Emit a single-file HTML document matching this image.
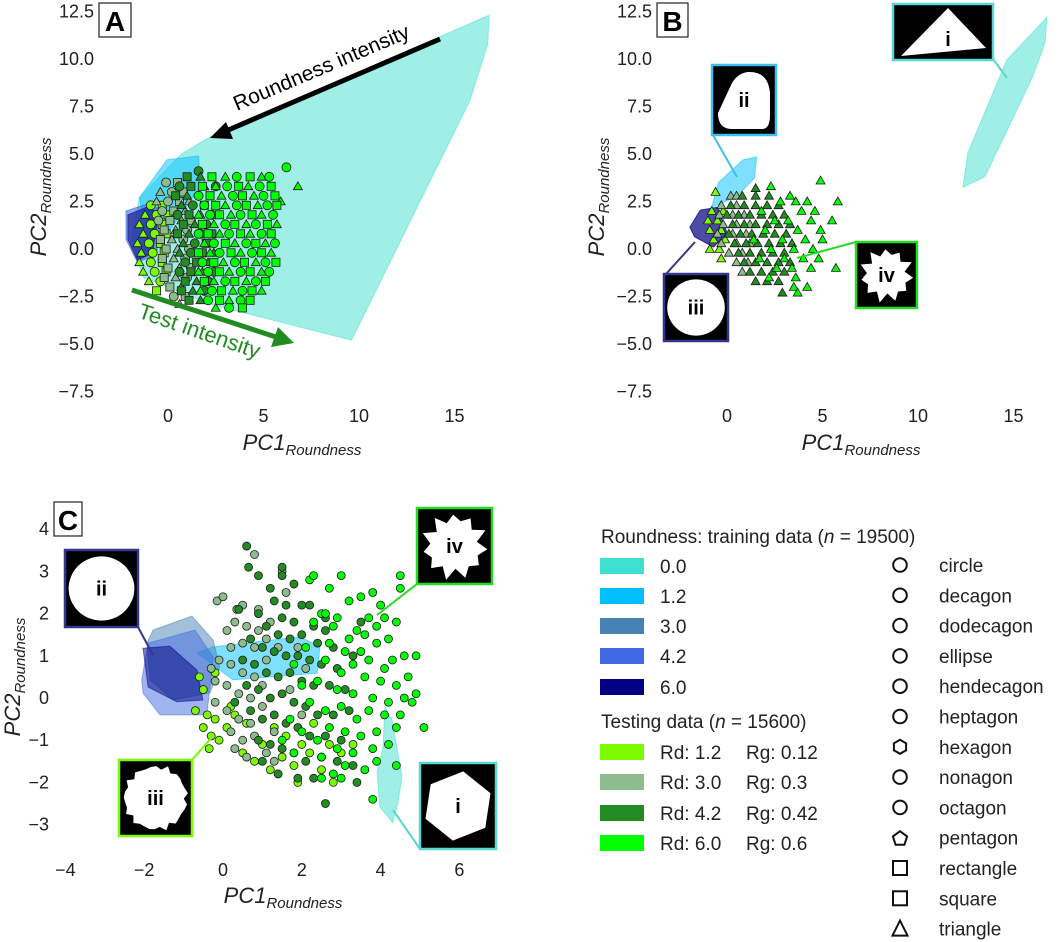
<!DOCTYPE html>
<html><head><meta charset="utf-8"><style>
html,body{margin:0;padding:0;background:#fff;}
svg{display:block;font-family:"Liberation Sans",sans-serif;}
</style></head><body>
<svg id="fig" width="1059" height="942" viewBox="0 0 1059 942">
<g id="gA"></g>
<g id="gB"></g>
<g id="gC"></g>
<g id="gL"></g>
</svg>
<script>
// ---------- DATA ----------
const hullColors = ["#40E0D0","#00BFFF","#4682B4","#4169E1","#000080"];
const hullLabels = ["0.0","1.2","3.0","4.2","6.0"];
const testColors = ["#7CFC00","#8FBC8F","#228B22","#00FF00"];
const testRd = ["Rd: 1.2","Rd: 3.0","Rd: 4.2","Rd: 6.0"];
const testRg = ["Rg: 0.12","Rg: 0.3","Rg: 0.42","Rg: 0.6"];
const shapeNames = ["circle","decagon","dodecagon","ellipse","hendecagon","heptagon","hexagon","nonagon","octagon","pentagon","rectangle","square","triangle"];
const abYTicks = [12.5,10,7.5,5,2.5,0,-2.5,-5,-7.5];
const abXTicks = [0,5,10,15];
const cYTicks = [4,3,2,1,0,-1,-2,-3];
const cXTicks = [-4,-2,0,2,4,6];

// Panel A hulls
const aHull0 = [[16.8,12.3],[16.75,10.8],[15.8,7.8],[9.6,-4.8],[2.2,-2.9],[-1.3,-1.5],[-1.9,0.5],[-1.5,2.7],[0.7,5.0],[2.2,5.9]];
const aHull1 = [[-1.5,2.7],[-0.05,4.7],[1.6,4.9],[1.7,3.3],[-0.05,0.8],[-1.3,1.7]];
const aHull3 = [[-2.2,2.0],[-1.0,2.4],[-0.3,2.0],[-0.6,-0.3],[-1.6,-0.7],[-2.2,0.5]];
const aHull4 = [[-2.1,1.8],[-1.1,2.2],[-0.5,1.9],[-0.8,-0.2],[-1.6,-0.6],[-2.1,0.5]];
// Panel A test points: rows [y, x1, x2, ...]
const aYellow = [[2.3,-0.9,-0.3],[1.8,-1.2,-0.6,0.0],[1.3,-1.5,-0.9,-0.3],[0.8,-1.3,-0.7,-0.1],[0.3,-1.6,-1.0,-0.4],[-0.2,-1.4,-0.8,-0.2],[-0.7,-1.5,-0.9,-0.3],[-1.2,-1.3,-0.7,-0.1],[-1.7,-1.0,-0.4],[-2.2,-0.6]];
const aGray = [[3.5,-0.1,0.5],[3.0,-0.4,0.2,0.8],[2.5,-0.6,0.0,0.6,1.1],[2.0,-0.3,0.3,0.9],[1.5,-0.5,0.1,0.7,1.2],[1.0,-0.2,0.4,1.0],[0.5,-0.4,0.2,0.8],[0.0,-0.1,0.5,1.1],[-0.5,-0.3,0.3,0.9],[-1.0,0.0,0.6,1.2],[-1.5,-0.2,0.4,1.0],[-2.0,0.1,0.7],[-2.5,0.3,0.9],[-2.9,0.6]];
const aForest = [[4.1,1.6],[3.8,1.0,1.7],[3.3,0.6,1.2,1.9,2.5],[2.8,0.4,1.0,1.6,2.2],[2.3,0.7,1.3,1.9,2.5],[1.8,0.5,1.1,1.7,2.3],[1.3,0.8,1.4,2.0],[0.8,0.5,1.1,1.7,2.3],[0.3,0.8,1.4,2.0],[-0.2,0.6,1.2,1.8,2.4],[-0.7,0.9,1.5,2.1],[-1.2,0.6,1.2,1.8,2.4],[-1.7,0.9,1.5,2.1],[-2.2,0.7,1.3,1.9],[-2.7,1.1,1.7]];
const aLime = [[4.3,6.2],[3.8,2.3,3.0,3.6,4.3,4.9,5.3],[3.3,1.8,2.5,3.1,3.7,4.2,4.8,5.4,6.8],[2.8,1.6,2.2,2.8,3.4,3.9,4.5,5.0,5.6],[2.5,5.9],[2.3,1.9,2.5,3.0,3.6,4.1,4.7,5.2,5.7],[1.8,1.6,2.2,2.7,3.3,3.8,4.4,4.9,5.5],[1.3,1.8,2.4,3.0,3.5,4.1,4.6,5.2,5.7],[0.8,1.6,2.1,2.7,3.2,3.8,4.3,4.9,5.4],[0.3,1.9,2.4,3.0,3.5,4.1,4.6,5.1,5.6],[-0.2,1.6,2.2,2.7,3.3,3.8,4.4,4.9,5.4],[-0.7,1.8,2.4,2.9,3.5,4.0,4.6,5.1,5.65],[-1.2,1.6,2.1,2.7,3.2,3.8,4.3,4.9,5.3],[-1.7,1.9,2.4,3.0,3.5,4.1,4.6,5.1],[-2.2,1.7,2.3,2.8,3.4,3.9,4.4,4.9],[-2.7,2.1,2.7,3.2,3.8,4.3],[-3.1,2.5,3.2,3.9]];

// Panel B hulls
const bHull0 = [[16.75,12.2],[16.65,10.85],[16.0,9.05],[13.5,3.8],[12.35,3.25],[12.6,5.05],[14.65,9.95]];
const bHull1 = [[-0.8,2.2],[-0.45,3.5],[0.85,4.7],[1.55,4.85],[1.45,3.75],[0.5,2.75]];
const bHull4 = [[-1.95,1.15],[-1.4,2.05],[-0.5,2.2],[0,0.85],[-0.7,0.1],[-1.7,0.65]];
// Panel B test points (triangles)
const bYellow = [[3.0,-0.6],[2.0,-0.8,-0.2],[1.5,-1.0,-0.5],[1.0,-0.9,-0.3],[0.5,-0.7,-0.1],[0.0,-0.9,-0.4],[-0.5,-0.3]];
const bGray = [[2.8,0.2,0.5],[2.3,-0.3,0.5],[1.8,-0.4,0.3,0.9],[1.3,-0.2,0.5,1.2],[0.8,-0.5,0.3,1.0],[0.3,-0.3,0.5,1.2],[-0.2,0.1,0.8],[-0.7,0.5,1.1],[-1.2,0.8]];
const bForest = [[3.2,1.5],[2.8,0.8,1.5,2.2],[2.3,0.2,0.9,1.5,2.1,2.7],[1.8,0.0,0.6,1.2,1.8,2.4,3.0],[1.3,0.3,0.9,1.5,2.1,2.7,3.3],[0.8,0.1,0.7,1.3,1.9,2.5,3.1],[0.3,0.4,1.0,1.6,2.2,2.8,3.4],[-0.2,0.6,1.2,1.8,2.4,3.0],[-0.7,0.9,1.5,2.1,2.7,3.3],[-1.2,1.2,1.8,2.4,3.0],[-1.7,1.5,2.1,2.7],[-2.3,2.9]];
const bLime = [[3.6,4.9],[3.3,2.3],[2.8,3.3],[2.5,2.8,3.6,4.2,5.8],[2.0,1.8,3.9,4.6],[1.5,2.5,3.2,4.4,5.5],[1.0,2.0,3.7,4.9],[0.5,1.4,2.9,4.1,5.0],[0.0,2.3,3.5,4.5],[-0.5,1.7,3.0,4.0,4.8],[-1.0,2.6,3.4,4.4,5.7],[-1.5,2.2,3.6],[-2.0,3.5,4.2],[-2.3,3.7]];

// Panel C hulls
const cHull0 = [[4.11,-0.21],[4.29,-0.52],[4.54,-1.87],[4.44,-2.49],[4.31,-2.96],[3.98,-2.58],[3.91,-1.78],[4.06,-1.16]];
const cHull1 = [[-0.66,1.07],[-0.25,1.21],[1.95,1.45],[2.46,1.21],[2.39,0.59],[0.25,0.43]];
const cHull2 = [[-1.78,1.61],[-0.79,1.94],[-0.25,1.37],[-0.08,0.73],[-0.33,0.12],[-1.27,-0.05],[-1.85,0.43],[-1.93,1.30]];
const cHull3 = [[-2.06,0.43],[-1.9,1.3],[-0.71,1.61],[-0.25,0.97],[-0.41,-0.40],[-1.6,-0.40],[-2.03,0.12]];
const cHull4 = [[-2.03,1.18],[-1.35,1.23],[-0.66,0.66],[-0.51,-0.05],[-1.17,-0.09],[-1.9,0.26]];
// Panel C test points [x,y]
const cYellow = [[-0.6,0.5],[-0.5,0.2],[-0.4,-0.4],[-0.5,-0.7],[-0.3,-0.9],[-0.2,-0.5],[-0.1,-1.0],[0.1,-0.7],[0.3,-0.4],[0.5,-1.3],[0.8,-1.5],[1.2,-1.7],[1.5,-1.4],[1.8,-1.6],[2.2,-1.3],[2.5,-1.7],[2.7,-1.1],[3.0,-1.3],[2.0,-1.1],[1.6,-0.9],[1.3,-0.7],[1.0,-1.1],[0.6,-0.6],[0.2,-0.2],[-0.7,-0.3],[-0.35,-1.2],[2.8,-2.0],[3.3,-1.1],[2.3,-0.6],[1.9,-2.0],[-0.2,0.6]];
const cGray = [[-0.15,2.3],[0.35,2.1],[0.5,2.2],[0.3,1.8],[0.1,1.6],[0.6,1.7],[0.9,1.6],[1.2,1.8],[0.2,1.2],[0.5,1.3],[0.8,1.2],[1.1,1.4],[1.4,1.2],[-0.1,0.9],[0.2,0.8],[0.5,0.6],[0.8,0.5],[1.1,0.9],[-0.2,0.4],[0.1,0.3],[0.4,0.1],[0.7,0.0],[1.0,0.3],[-0.2,-0.1],[0.1,-0.3],[0.4,-0.5],[0.7,-0.6],[1.0,-0.2],[0.2,-0.8],[0.5,-1.0],[0.8,-0.9],[1.3,-0.8],[0.6,-1.4],[1.1,-1.3],[0.9,2.1],[1.6,2.5],[0.8,3.4],[1.5,3.0],[1.9,1.2],[2.1,0.7],[1.7,0.2],[0.3,-1.2],[2.0,-0.4],[-0.3,0.7],[0.0,2.4],[1.3,-1.5]];
const cForest = [[0.6,3.6],[0.65,3.1],[1.5,3.1],[1.5,2.9],[1.8,2.7],[0.9,2.9],[1.3,2.3],[1.6,2.2],[2.0,2.2],[2.2,2.2],[0.4,2.1],[0.9,2.0],[1.5,1.9],[1.8,1.8],[2.3,1.7],[2.6,1.6],[1.1,1.7],[1.4,1.5],[1.7,1.4],[2.0,1.5],[2.4,1.3],[2.8,1.2],[0.7,1.4],[1.0,1.2],[1.3,1.1],[1.6,1.0],[1.9,1.0],[2.2,0.9],[2.5,0.8],[2.9,0.7],[0.5,0.9],[0.8,0.8],[1.1,0.6],[1.4,0.5],[1.7,0.6],[2.0,0.4],[2.3,0.3],[2.7,0.3],[3.1,0.2],[0.6,0.3],[0.9,0.2],[1.2,0.0],[1.5,0.1],[1.8,-0.1],[2.1,-0.2],[2.4,-0.4],[2.8,-0.4],[3.2,-0.3],[0.7,-0.3],[1.0,-0.5],[1.3,-0.4],[1.6,-0.6],[1.9,-0.7],[2.2,-0.9],[2.6,-0.9],[3.0,-1.0],[0.9,-1.0],[1.2,-1.1],[1.5,-1.2],[1.8,-1.3],[2.1,-1.5],[2.5,-1.4],[2.9,-1.5],[3.3,-1.6],[1.4,-1.8],[1.9,-1.9],[2.3,-1.9],[2.6,-2.5],[3.4,-2.0],[1.0,-1.5],[2.6,1.9],[1.2,2.6],[3.3,1.0],[3.5,1.8],[0.3,-0.1]];
const cLime = [[4.5,2.9],[4.5,2.6],[3.8,2.5],[3.5,2.4],[4.0,2.2],[3.2,2.3],[2.7,2.6],[2.9,1.9],[3.4,1.6],[3.7,1.9],[4.1,1.9],[4.4,1.8],[3.9,1.7],[3.6,1.5],[3.2,1.4],[2.8,1.7],[4.2,1.4],[3.9,1.3],[4.6,1.0],[4.9,1.0],[3.5,1.1],[3.1,1.1],[2.7,1.3],[3.3,0.8],[3.7,0.9],[4.1,0.7],[4.3,0.9],[4.7,0.5],[4.4,0.3],[4.0,0.4],[3.6,0.5],[3.0,0.6],[2.6,0.9],[2.4,0.4],[2.9,0.2],[3.3,0.1],[3.8,0.0],[4.2,-0.1],[4.6,0.0],[4.8,-0.1],[4.9,0.1],[4.1,-0.4],[3.7,-0.3],[3.4,-0.5],[3.0,-0.2],[2.6,-0.3],[2.2,-0.1],[2.0,0.3],[1.8,0.8],[2.1,1.2],[2.3,1.8],[2.5,2.0],[4.4,-0.7],[3.9,-0.8],[3.5,-0.9],[3.1,-0.8],[2.7,-0.7],[2.4,-1.0],[2.0,-0.8],[1.7,-0.5],[4.2,-1.1],[3.8,-1.2],[3.3,-1.3],[2.9,-1.2],[2.5,-1.4],[3.9,-1.5],[3.6,-1.7],[3.1,-1.6],[2.8,-1.8],[3.0,-1.9],[2.5,-1.9],[3.8,-2.4],[4.4,-1.6],[5.1,-0.7],[4.5,-0.4],[1.8,-1.3],[1.5,-1.0],[2.2,2.8],[2.3,2.9],[2.6,2.0],[3.0,2.9]];

// ---------- RENDER ----------
const NS="http://www.w3.org/2000/svg";
function mk(tag,attrs,parent,text){const e=document.createElementNS(NS,tag);for(const k in attrs)e.setAttribute(k,attrs[k]);if(text!==undefined)e.textContent=text;parent.appendChild(e);return e;}
const scA={x:v=>168+19.1*v,y:v=>249-19*v};
const scB={x:v=>727+19.1*v,y:v=>249-19*v};
const scC={x:v=>223+39.4*v,y:v=>698-42.2*v};
function fmt(v,d){const s=Math.abs(v).toFixed(d);return (v<0?"\u2212":"")+s;}
function rowsToPts(rows){const p=[];rows.forEach(r=>{for(let i=1;i<r.length;i++)p.push([r[i],r[0]]);});return p;}

function hull(g,sc,pts,color,op,name){
  const e=mk("polygon",{points:pts.map(p=>sc.x(p[0]).toFixed(1)+","+sc.y(p[1]).toFixed(1)).join(" "),fill:color,"fill-opacity":op,stroke:color,"stroke-opacity":op,"stroke-width":1},g);
  
  
}
function marker(g,x,y,shape,color,s,name){
  let e;
  if(shape===0){e=mk("circle",{cx:x,cy:y,r:s/2},g);}
  else if(shape===1){e=mk("rect",{x:x-s*0.45,y:y-s*0.45,width:s*0.9,height:s*0.9},g);}
  else {const h=s*0.5;e=mk("polygon",{points:`${x},${y-h} ${x+h},${y+h*0.75} ${x-h},${y+h*0.75}`},g);}
  e.setAttribute("fill",color);e.setAttribute("stroke","#1a1a1a");e.setAttribute("stroke-width","0.8");
  
  
}
function points(g,sc,pts,color,shapeMode,s,name){
  pts.forEach((p,i)=>{const sh=shapeMode<0?(i%3):shapeMode;marker(g,sc.x(p[0]),sc.y(p[1]),sh,color,s,name);});
}
function axisLabel(g,x,y,main,rot,name){
  const t=mk("text",{x:x,y:y,"font-size":22,"font-style":"italic",fill:"#222","text-anchor":"middle",transform:rot?`rotate(-90 ${x} ${y})`:""},g);
  mk("tspan",{},t,main);
  mk("tspan",{"font-size":15,dy:5},t,"Roundness");
  
  
}
function letterBox(g,x,y,w,h,l,name){
  const r=mk("rect",{x:x,y:y,width:w,height:h,fill:"#fff",stroke:"#222","stroke-width":1.2},g);
  
  
  const t=mk("text",{x:x+w/2,y:y+h-6,"font-size":28,"font-weight":"bold","text-anchor":"middle",fill:"#000"},g,l);
  
  
}
function abAxes(g,sc,labelRight,prefix){
  abYTicks.forEach(v=>{const t=mk("text",{x:labelRight,y:sc.y(v)+6,"font-size":18,"text-anchor":"end",fill:"#222"},g,fmt(v,1));
    
    });
  abXTicks.forEach(v=>{const t=mk("text",{x:sc.x(v),y:422,"font-size":18,"text-anchor":"middle",fill:"#222"},g,String(v));
    
    });
}
function spiky(cx,cy,r1,r2,n,phase){let s=[];for(let i=0;i<n*2;i++){const a=phase+i*Math.PI/n;const r=(i%2?r2:r1)*(1+0.06*Math.sin(i*2.3));s.push((cx+r*Math.cos(a)).toFixed(1)+","+(cy+r*Math.sin(a)).toFixed(1));}return s.join(" ");}
function inset(g,x,y,w,h,border,kind,label,lx1,ly1,lx2,ly2,name){
  const ln=mk("line",{x1:lx1,y1:ly1,x2:lx2,y2:ly2,stroke:border,"stroke-width":2},g);
  
  
  const r=mk("rect",{x:x,y:y,width:w,height:h,fill:"#000",stroke:border,"stroke-width":2.5},g);
  
  
  const cx=x+w/2,cy=y+h/2,m=Math.min(w,h);
  let s;
  if(kind==="tri") s=mk("polygon",{points:`${x+8},${y+h-4} ${x+w*0.55},${y+4} ${x+w-7},${y+h-12}`,fill:"#fff"},g);
  else if(kind==="rtri") s=mk("path",{d:`M${x+6},${y+h-22} Q${x+6},${y+h-6} ${x+20},${y+h-6} L${x+w-14},${y+h-6} Q${x+w-6},${y+h-6} ${x+w-6},${y+h-20} L${x+w-6},${y+28} Q${x+w-8},${y+6} ${x+w-28},${y+7} Q${x+w-38},${y+8} ${x+w-44},${y+18} Z`,fill:"#fff"},g);
  else if(kind==="circ") s=mk("ellipse",{cx:cx,cy:cy,rx:m*0.45,ry:m*0.44,fill:"#fff"},g);
  else if(kind==="blob") s=mk("polygon",{points:spiky(cx,cy,m*0.44,m*0.41,18,0.2),fill:"#fff"},g);
  else if(kind==="spiky") s=mk("polygon",{points:spiky(cx,cy,m*0.44,m*0.32,11,0.1),fill:"#fff"},g);
  else if(kind==="hex"){let p=[];for(let i=0;i<6;i++){const a=-Math.PI/2+0.15+i*Math.PI/3;p.push((cx+m*0.46*Math.cos(a)).toFixed(1)+","+(cy+m*0.46*Math.sin(a)).toFixed(1));}s=mk("polygon",{points:p.join(" "),fill:"#fff"},g);}
  
  
  const t=mk("text",{x:kind==="tri"?x+w*0.55:cx,y:kind==="tri"?y+h-14:cy+7,"font-size":20,"font-weight":"bold","text-anchor":"middle",fill:"#000"},g,label);
  
  
}

// ---- Panel A ----
const gA=document.getElementById("gA");
hull(gA,scA,aHull0,hullColors[0],0.5,"a-hull-0.0");
hull(gA,scA,aHull1,hullColors[1],0.5,"a-hull-1.2");
hull(gA,scA,aHull3,hullColors[3],0.6,"a-hull-4.2");
hull(gA,scA,aHull4,hullColors[4],0.55,"a-hull-6.0");
points(gA,scA,rowsToPts(aYellow),testColors[0],-1,9,"a-point-rd1.2");
points(gA,scA,rowsToPts(aGray),testColors[1],-1,9,"a-point-rd3.0");
points(gA,scA,rowsToPts(aForest),testColors[2],-1,9,"a-point-rd4.2");
points(gA,scA,rowsToPts(aLime),testColors[3],-1,9,"a-point-rd6.0");
abAxes(gA,scA,94,"a");
axisLabel(gA,302,450,"PC1",false,"a-x-axis-title");
axisLabel(gA,46,197,"PC2",true,"a-y-axis-title");
letterBox(gA,99,3,32,34,"A","a-panel-label");
// arrows
{
 const l1=mk("line",{x1:440,y1:39,x2:226,y2:131,stroke:"#000","stroke-width":5},gA);
 
 
 const h1=mk("polygon",{points:"210,138 226,122 233,139",fill:"#000"},gA);
 
 
 const t1=mk("text",{x:324,y:74,"font-size":21,"text-anchor":"middle",fill:"#000",transform:"rotate(-23 324 74)"},gA,"Roundness intensity");
 
 
 const l2=mk("line",{x1:132,y1:290,x2:276,y2:337,stroke:"#228B22","stroke-width":5},gA);
 
 
 const h2=mk("polygon",{points:"294,343 271,347 278,327",fill:"#228B22"},gA);
 
 
 const t2=mk("text",{x:197,y:338,"font-size":22,"text-anchor":"middle",fill:"#228B22",transform:"rotate(19 197 338)"},gA,"Test intensity");
 
 
}

// ---- Panel B ----
const gB=document.getElementById("gB");
hull(gB,scB,bHull0,hullColors[0],0.5,"b-hull-0.0");
hull(gB,scB,bHull1,hullColors[1],0.5,"b-hull-1.2");
hull(gB,scB,bHull4,hullColors[4],0.7,"b-hull-6.0");
points(gB,scB,rowsToPts(bYellow),testColors[0],2,9,"b-point-rd1.2");
points(gB,scB,rowsToPts(bGray),testColors[1],2,9,"b-point-rd3.0");
points(gB,scB,rowsToPts(bForest),testColors[2],2,9,"b-point-rd4.2");
points(gB,scB,rowsToPts(bLime),testColors[3],2,9,"b-point-rd6.0");
abAxes(gB,scB,652,"b");
axisLabel(gB,861,450,"PC1",false,"b-x-axis-title");
axisLabel(gB,604,197,"PC2",true,"b-y-axis-title");
letterBox(gB,657,3,31,34,"B","b-panel-label");
inset(gB,893,4,100,56,"#5ad6d0","tri","i",993,59,1007,78,"b-inset-i");
inset(gB,712,65,64,70,"#3cc0f0","rtri","ii",713,135,737,177,"b-inset-ii");
inset(gB,664,274,64,67,"#35358f","circ","iii",666,274,695,242,"b-inset-iii");
inset(gB,856,242,61,66,"#22dd22","spiky","iv",856,242,797,258,"b-inset-iv");

// ---- Panel C ----
const gC=document.getElementById("gC");
hull(gC,scC,cHull0,hullColors[0],0.5,"c-hull-0.0");
hull(gC,scC,cHull1,hullColors[1],0.5,"c-hull-1.2");
hull(gC,scC,cHull2,hullColors[2],0.5,"c-hull-3.0");
hull(gC,scC,cHull3,hullColors[3],0.5,"c-hull-4.2");
hull(gC,scC,cHull4,hullColors[4],0.5,"c-hull-6.0");
points(gC,scC,cYellow,testColors[0],0,8,"c-point-rd1.2");
points(gC,scC,cGray,testColors[1],0,8,"c-point-rd3.0");
points(gC,scC,cForest,testColors[2],0,8,"c-point-rd4.2");
points(gC,scC,cLime,testColors[3],0,8,"c-point-rd6.0");
cYTicks.forEach(v=>{const t=mk("text",{x:49,y:scC.y(v)+6,"font-size":18,"text-anchor":"end",fill:"#222"},gC,fmt(v,0));
 
 });
cXTicks.forEach(v=>{const t=mk("text",{x:scC.x(v),y:876,"font-size":18,"text-anchor":"middle",fill:"#222"},gC,fmt(v,0));
 
 });
axisLabel(gC,283,903,"PC1",false,"c-x-axis-title");
axisLabel(gC,20,677,"PC2",true,"c-y-axis-title");
letterBox(gC,54,502,28,34,"C","c-panel-label");
inset(gC,65,550,73,77,"#35358f","circ","ii",138,627,153,655,"c-inset-ii");
inset(gC,417,508,75,76,"#22dd22","spiky","iv",417,584,377,615,"c-inset-iv");
inset(gC,119,760,73,76,"#7CFC00","blob","iii",192,760,212,737,"c-inset-iii");
inset(gC,420,763,76,86,"#5ad6d0","hex","i",420,849,393,810,"c-inset-i");

// ---- Legend ----
const gL=document.getElementById("gL");
const lt1=mk("text",{x:601,y:543,"font-size":19,fill:"#222"},gL);
mk("tspan",{},lt1,"Roundness: training data (");mk("tspan",{"font-style":"italic"},lt1,"n");mk("tspan",{},lt1," = 19500)");


const trainY=[566,596,626,656,687];
hullLabels.forEach((l,i)=>{
 const r=mk("rect",{x:600,y:trainY[i]-8,width:44,height:16,fill:hullColors[i]},gL);
 
 
 const t=mk("text",{x:660,y:trainY[i]+7,"font-size":19,fill:"#222"},gL,l);
 
 
});
const lt2=mk("text",{x:601,y:728,"font-size":19,fill:"#222"},gL);
mk("tspan",{},lt2,"Testing data (");mk("tspan",{"font-style":"italic"},lt2,"n");mk("tspan",{},lt2," = 15600)");


const testY=[752,782,813,843];
testRd.forEach((l,i)=>{
 const r=mk("rect",{x:600,y:testY[i]-8,width:44,height:16,fill:testColors[i]},gL);
 
 
 const t=mk("text",{x:660,y:testY[i]+7,"font-size":19,fill:"#222"},gL,l);
 
 
 const t2=mk("text",{x:746,y:testY[i]+7,"font-size":19,fill:"#222"},gL,testRg[i]);
 
 
});
shapeNames.forEach((n,i)=>{
 const y=565+30.3*i, x=900;
 let m;
 if(n==="hexagon"){let p=[];for(let k=0;k<6;k++){const a=-Math.PI/2+k*Math.PI/3;p.push((x+7*Math.cos(a)).toFixed(1)+","+(y+7*Math.sin(a)).toFixed(1));}m=mk("polygon",{points:p.join(" ")},gL);}
 else if(n==="pentagon"){let p=[];for(let k=0;k<5;k++){const a=-Math.PI/2+k*2*Math.PI/5;p.push((x+7.5*Math.cos(a)).toFixed(1)+","+(y+1+7.5*Math.sin(a)).toFixed(1));}m=mk("polygon",{points:p.join(" ")},gL);}
 else if(n==="rectangle"||n==="square"){m=mk("rect",{x:x-7,y:y-7,width:14,height:14},gL);}
 else if(n==="triangle"){m=mk("polygon",{points:`${x},${y-8} ${x+7.5},${y+7} ${x-7.5},${y+7}`},gL);}
 else {m=mk("circle",{cx:x,cy:y,r:6.8},gL);}
 m.setAttribute("fill","none");m.setAttribute("stroke","#111");m.setAttribute("stroke-width","2");
 
 
 const t=mk("text",{x:939,y:y+7,"font-size":19,fill:"#222"},gL,n);
 
 
});
</script>
</body></html>
